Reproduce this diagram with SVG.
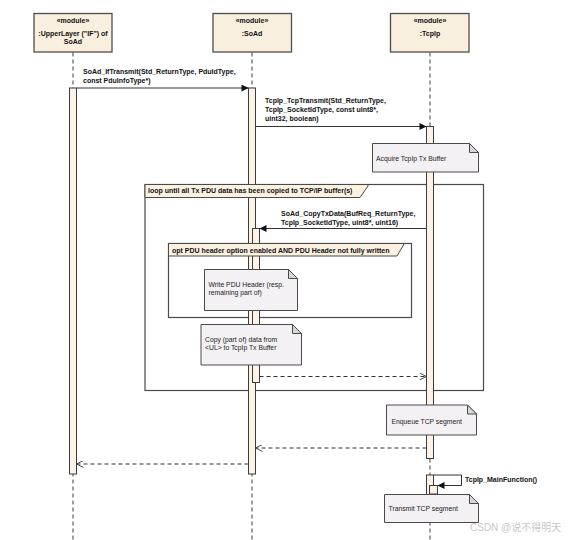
<svg xmlns="http://www.w3.org/2000/svg" width="568" height="540" viewBox="0 0 568 540">
<defs>
<style>
.hdr{fill:#f9efdf;stroke:#4d4d4d;stroke-width:1.3}
.life{stroke:#5e5e5e;stroke-width:1.2;stroke-dasharray:4,3;fill:none}
.act{fill:#fcf2e6;stroke:#3c3c3c;stroke-width:1}
.frame{fill:none;stroke:#4a4a4a;stroke-width:1.2}
.tab{fill:#fbf1e1;stroke:#4a4a4a;stroke-width:1}
.note{fill:#f4f1f4;stroke:#4a4a4a;stroke-width:1}
.fold{fill:#d9d6d9;stroke:#4a4a4a;stroke-width:1}
.msg{stroke:#333;stroke-width:1;fill:none}
.ret{stroke:#333;stroke-width:1;fill:none;stroke-dasharray:4,3}
.t{font-family:"Liberation Sans",Arial,sans-serif;font-size:7px;fill:#111}
.b{font-weight:bold}
.n{font-family:"Liberation Sans",Arial,sans-serif;font-size:6.8px;fill:#222}
.c{text-anchor:middle}
</style>
<marker id="filled" viewBox="0 0 10 10" refX="10" refY="5" markerWidth="10" markerHeight="7" markerUnits="userSpaceOnUse" orient="auto">
<path d="M0,0 L10,5 L0,10 z" fill="#111"/>
</marker>
<marker id="open" viewBox="0 0 10 10" refX="10" refY="5" markerWidth="8" markerHeight="7" markerUnits="userSpaceOnUse" orient="auto">
<path d="M0,0 L10,5 L0,10" fill="none" stroke="#333" stroke-width="1.2"/>
</marker>
</defs>
<rect width="568" height="540" fill="#ffffff"/>

<g id="lifelines">
<line class="life" x1="73" y1="52.5" x2="73" y2="540"/>
<line class="life" x1="252" y1="52.5" x2="252" y2="540"/>
<line class="life" x1="430" y1="52.5" x2="430" y2="540"/>
</g>

<g id="node-upperlayer">
<rect class="hdr" x="34" y="13.5" width="78" height="38.5"/>
<text class="t b c" x="73" y="22.5">«module»</text>
<text class="t b c" x="73" y="35.5">:UpperLayer ("IF") of</text>
<text class="t b c" x="73" y="44">SoAd</text>
</g>
<g id="node-soad">
<rect class="hdr" x="213" y="13.5" width="78.5" height="38.5"/>
<text class="t b c" x="252" y="22.5">«module»</text>
<text class="t b c" x="252" y="35.5">:SoAd</text>
</g>
<g id="node-tcpip">
<rect class="hdr" x="390.5" y="13.5" width="78.5" height="38.5"/>
<text class="t b c" x="430" y="22.5">«module»</text>
<text class="t b c" x="430" y="35.5">:TcpIp</text>
</g>

<g id="frame-loop">
<rect class="frame" x="145" y="184.5" width="338.5" height="206"/>
</g>
<g id="frame-opt">
<rect class="frame" x="168.5" y="243.5" width="243" height="74"/>
</g>

<g id="activations">
<rect class="act" x="69.5" y="88" width="7" height="386"/>
<rect class="act" x="248.5" y="88" width="7" height="386"/>
<rect class="act" x="426.5" y="126.5" width="7" height="332"/>
<rect class="act" x="252.5" y="228.5" width="7" height="154"/>
<rect class="act" x="426.5" y="475" width="7" height="25"/>
<rect class="act" x="429.5" y="485.5" width="8" height="8.5"/>
</g>

<g id="connectors">
<line class="msg" x1="76.5" y1="88" x2="248.5" y2="88" marker-end="url(#filled)"/>
<text class="t b" x="83" y="73.5">SoAd_IfTransmit(Std_ReturnType, PduIdType,</text>
<text class="t b" x="83" y="82.5">const PduInfoType*)</text>

<line class="msg" x1="255.5" y1="126.5" x2="426.5" y2="126.5" marker-end="url(#filled)"/>
<text class="t b" x="265" y="102.5">TcpIp_TcpTransmit(Std_ReturnType,</text>
<text class="t b" x="265" y="111.5">TcpIp_SocketIdType, const uint8*,</text>
<text class="t b" x="265" y="120.5">uint32, boolean)</text>

<line class="msg" x1="426.5" y1="228.5" x2="259.5" y2="228.5" marker-end="url(#filled)"/>
<text class="t b" x="281" y="215.5">SoAd_CopyTxData(BufReq_ReturnType,</text>
<text class="t b" x="281" y="224.5">TcpIp_SocketIdType, uint8*, uint16)</text>

<line class="ret" x1="259.5" y1="376.5" x2="426.5" y2="376.5" marker-end="url(#open)"/>
<line class="ret" x1="426.5" y1="448" x2="255.5" y2="448" marker-end="url(#open)"/>
<line class="ret" x1="248.5" y1="464" x2="76.5" y2="464" marker-end="url(#open)"/>

<path class="msg" d="M433.5,475 H461.5 V485.5 H437.5" marker-end="url(#filled)"/>
<text class="t b" x="465" y="482">TcpIp_MainFunction()</text>
</g>

<g id="frame-tabs">
<polygon class="tab" points="145,184.5 368,184.5 368,186 360,197.5 145,197.5"/>
<text class="t b" x="148" y="193">loop until all Tx PDU data has been copied to TCP/IP buffer(s)</text>
<polygon class="tab" points="168.5,243.5 403.5,243.5 403.5,245 397,256 168.5,256"/>
<text class="t b" x="172" y="252.5">opt PDU header option enabled AND PDU Header not fully written</text>
</g>

<g id="note-acquire">
<path class="note" d="M372.5,143.5 H469.5 L478.5,152.5 V172 H372.5 Z"/>
<path class="fold" d="M469.5,143.5 V152.5 H478.5 Z"/>
<text class="n" x="376" y="160.5">Acquire TcpIp Tx Buffer</text>
</g>
<g id="note-write">
<path class="note" d="M204.5,269.5 H288.5 L297.5,278.5 V310.5 H204.5 Z"/>
<path class="fold" d="M288.5,269.5 V278.5 H297.5 Z"/>
<text class="n" x="208.5" y="286.5">Write PDU Header (resp.</text>
<text class="n" x="208.5" y="295">remaining part of)</text>
</g>
<g id="note-copy">
<path class="note" d="M201,324.5 H292.5 L301.5,333.5 V365 H201 Z"/>
<path class="fold" d="M292.5,324.5 V333.5 H301.5 Z"/>
<text class="n" x="205" y="341.5">Copy (part of) data from</text>
<text class="n" x="205" y="350">&lt;UL&gt; to TcpIp Tx Buffer</text>
</g>
<g id="note-enqueue">
<path class="note" d="M386.5,405 H467.5 L476.5,414 V435 H386.5 Z"/>
<path class="fold" d="M467.5,405 V414 H476.5 Z"/>
<text class="n" x="391.5" y="423.5">Enqueue TCP segment</text>
</g>
<g id="note-transmit">
<path class="note" d="M384.5,494.5 H469.5 L478.5,503.5 V522.5 H384.5 Z"/>
<path class="fold" d="M469.5,494.5 V503.5 H478.5 Z"/>
<text class="n" x="388.5" y="511">Transmit TCP segment</text>
</g>

<text x="470" y="531" font-family="Liberation Sans, Noto Sans CJK SC, sans-serif" font-size="10" fill="#c8c8c8">CSDN @说不得明天</text>
</svg>
